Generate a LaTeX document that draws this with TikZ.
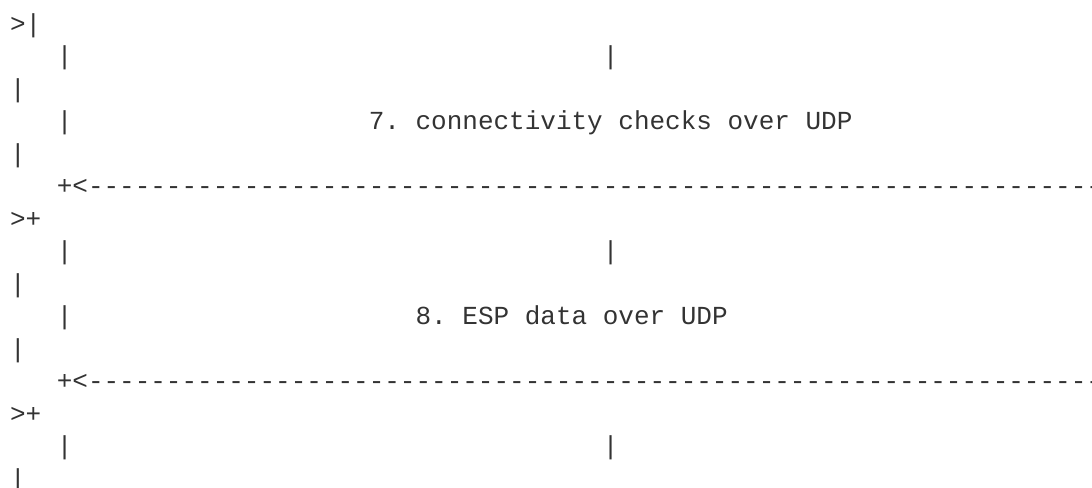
\documentclass[tikz,border=0pt]{standalone}
\usepackage{fontspec}
\setmonofont{Liberation Mono}
\definecolor{ink}{RGB}{51,51,51}
\ExplSyntaxOn
\NewDocumentCommand\dashrun{m}{\prg_replicate:nn{#1}{-{}}}
\ExplSyntaxOff
\begin{document}
\begin{tikzpicture}[x=11.7pt,y=-24.375pt,
  txt/.style={anchor=base west,inner sep=0pt,outer sep=0pt,
    font=\ttfamily\fontsize{19.5pt}{24pt}\selectfont,text=ink}]
\useasboundingbox (-7.5pt,24pt) rectangle (811.5pt,-341.25pt);
\clip (-7.5pt,24pt) rectangle (811.5pt,-341.25pt);
\node[txt] (r1) at (0,0) {>|};
\node[txt] (r2a) at (3,1) {|};
\node[txt] (r2b) at (38,1) {|};
\node[txt] (r3) at (0,2) {|};
\node[txt] (r4a) at (3,3) {|};
\node[txt] (r4b) at (23,3) {7. connectivity checks over UDP};
\node[txt] (r5) at (0,4) {|};
\node[txt] (r6) at (3,5) {+<\dashrun{68}};
\node[txt] (r7) at (0,6) {>+};
\node[txt] (r8a) at (3,7) {|};
\node[txt] (r8b) at (38,7) {|};
\node[txt] (r9) at (0,8) {|};
\node[txt] (r10a) at (3,9) {|};
\node[txt] (r10b) at (26,9) {8. ESP data over UDP};
\node[txt] (r11) at (0,10) {|};
\node[txt] (r12) at (3,11) {+<\dashrun{68}};
\node[txt] (r13) at (0,12) {>+};
\node[txt] (r14a) at (3,13) {|};
\node[txt] (r14b) at (38,13) {|};
\node[txt] (r15) at (0,14) {|};
\end{tikzpicture}
\end{document}
